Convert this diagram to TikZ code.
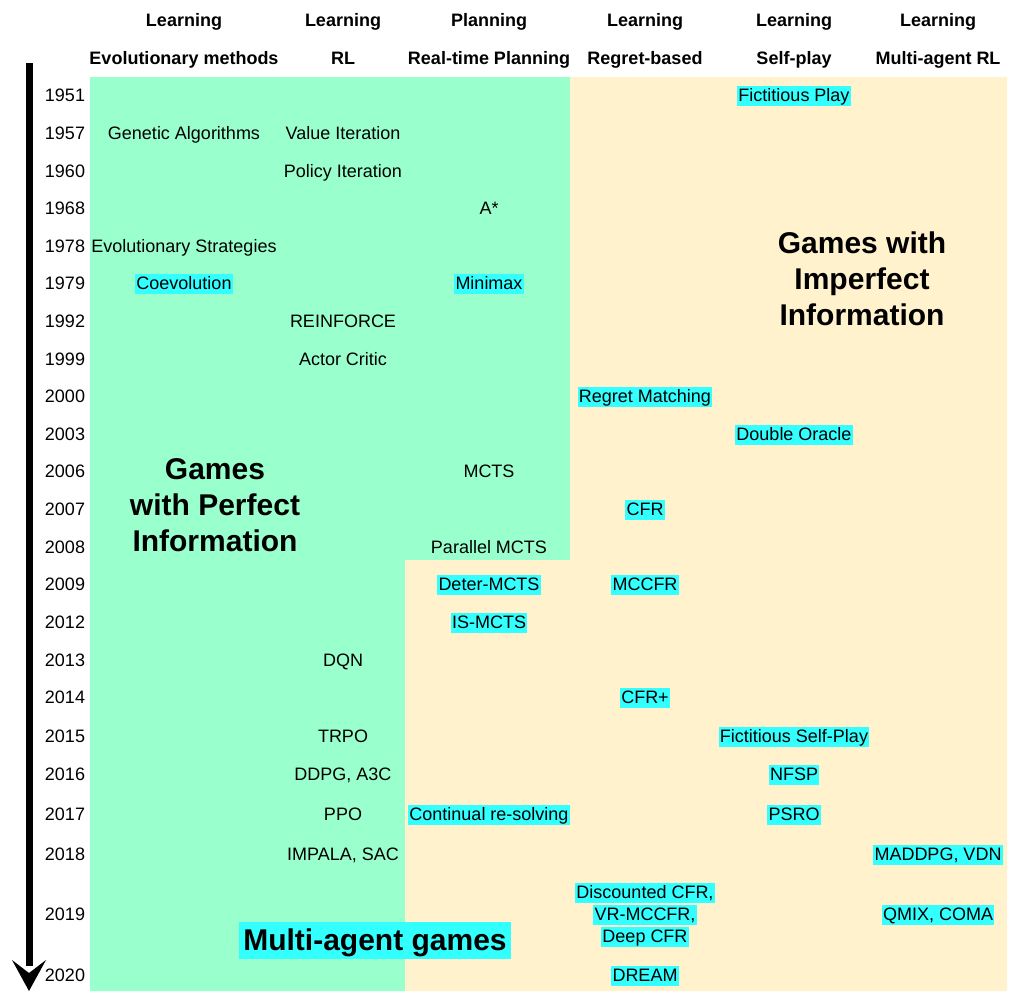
\documentclass[tikz,border=0pt]{standalone}
\usepackage{fontspec}
\setmainfont{Liberation Sans}
\definecolor{pgreen}{HTML}{99FFCC}
\definecolor{pyellow}{HTML}{FFF2CC}
\definecolor{pcyan}{HTML}{33FFFF}
\begin{document}
\begin{tikzpicture}[x=1pt,y=-1pt,
  txt/.style={font=\fontsize{18}{21}\selectfont, inner xsep=1.2pt, inner ysep=0.5pt, text height=15.5pt, text depth=4pt, anchor=center, yshift=-1pt},
  yr/.style={txt},
  item/.style={txt},
  hl/.style={txt, fill=pcyan},
  hdr/.style={txt, font=\fontsize{18}{21}\selectfont\bfseries},
  big/.style={font=\fontsize{30}{36}\selectfont\bfseries, align=center, inner sep=0pt},
  bighl/.style={font=\fontsize{30}{36}\selectfont\bfseries, fill=pcyan, inner xsep=4pt, inner ysep=2.5pt, text height=26pt, text depth=6.5pt, yshift=-1.5pt}
]
\useasboundingbox (0,0) rectangle (1009,991);
% background regions
\fill[pgreen] (90,77) -- (570,77) -- (570,560) -- (405,560) -- (405,991) -- (90,991) -- cycle;
\fill[pyellow] (570,77) -- (1007,77) -- (1007,991) -- (405,991) -- (405,560) -- (570,560) -- cycle;
% time arrow
\coordinate (atop) at (29,63);
\coordinate (abase) at (29,966);
\coordinate (atip) at (29,991);
\draw[line width=7pt] (atop) -- (abase);
\fill (12,960) -- (atip) -- (46,960) -- (29,973) -- cycle;
% headers
\node[hdr] (h1a) at (184,20) {Learning};
\node[hdr] (h1b) at (184,58) {Evolutionary methods};
\node[hdr] (h2a) at (343,20) {Learning};
\node[hdr] (h2b) at (343,58) {RL};
\node[hdr] (h3a) at (489,20) {Planning};
\node[hdr] (h3b) at (489,58) {Real-time Planning};
\node[hdr] (h4a) at (645,20) {Learning};
\node[hdr] (h4b) at (645,58) {Regret-based};
\node[hdr] (h5a) at (794,20) {Learning};
\node[hdr] (h5b) at (794,58) {Self-play};
\node[hdr] (h6a) at (938,20) {Learning};
\node[hdr] (h6b) at (938,58) {Multi-agent RL};
% years
\node[yr] (y1951) at (65,95) {1951};
\node[yr] (y1957) at (65,133) {1957};
\node[yr] (y1960) at (65,171) {1960};
\node[yr] (y1968) at (65,208) {1968};
\node[yr] (y1978) at (65,246) {1978};
\node[yr] (y1979) at (65,283) {1979};
\node[yr] (y1992) at (65,321) {1992};
\node[yr] (y1999) at (65,359) {1999};
\node[yr] (y2000) at (65,396) {2000};
\node[yr] (y2003) at (65,434) {2003};
\node[yr] (y2006) at (65,471) {2006};
\node[yr] (y2007) at (65,509) {2007};
\node[yr] (y2008) at (65,547) {2008};
\node[yr] (y2009) at (65,584) {2009};
\node[yr] (y2012) at (65,622) {2012};
\node[yr] (y2013) at (65,660) {2013};
\node[yr] (y2014) at (65,697) {2014};
\node[yr] (y2015) at (65,736) {2015};
\node[yr] (y2016) at (65,774) {2016};
\node[yr] (y2017) at (65,814) {2017};
\node[yr] (y2018) at (65,854) {2018};
\node[yr] (y2019) at (65,914) {2019};
\node[yr] (y2020) at (65,975) {2020};
% items
\node[hl] (fp) at (794,95) {Fictitious Play};
\node[item] (ga) at (184,133) {Genetic Algorithms};
\node[item] (vi) at (343,133) {Value Iteration};
\node[item] (pi) at (343,171) {Policy Iteration};
\node[item] (astar) at (489,208) {A*};
\node[item] (es) at (184,246) {Evolutionary Strategies};
\node[hl] (coev) at (184,283) {Coevolution};
\node[hl] (minimax) at (489,283) {Minimax};
\node[item] (reinforce) at (343,321) {REINFORCE};
\node[item] (ac) at (343,359) {Actor Critic};
\node[hl] (rm) at (645,396) {Regret Matching};
\node[hl] (do) at (794,434) {Double Oracle};
\node[item] (mcts) at (489,471) {MCTS};
\node[hl] (cfr) at (645,509) {CFR};
\node[item] (pmcts) at (489,547) {Parallel MCTS};
\node[hl] (dmcts) at (489,584) {Deter-MCTS};
\node[hl] (mccfr) at (645,584) {MCCFR};
\node[hl] (ismcts) at (489,622) {IS-MCTS};
\node[item] (dqn) at (343,660) {DQN};
\node[hl] (cfrp) at (645,697) {CFR+};
\node[item] (trpo) at (343,736) {TRPO};
\node[hl] (fsp) at (794,736) {Fictitious Self-Play};
\node[item] (ddpg) at (343,774) {DDPG, A3C};
\node[hl] (nfsp) at (794,774) {NFSP};
\node[item] (ppo) at (343,814) {PPO};
\node[hl] (crs) at (489,814) {Continual re-solving};
\node[hl] (psro) at (794,814) {PSRO};
\node[item] (impala) at (343,854) {IMPALA, SAC};
\node[hl] (maddpg) at (938,854) {MADDPG, VDN};
\node[hl] (dcfr) at (645,892) {Discounted CFR,};
\node[hl] (vrmccfr) at (645,914) {VR-MCCFR,};
\node[hl] (deepcfr) at (645,936) {Deep CFR};
\node[hl] (qmix) at (938,914) {QMIX, COMA};
\node[hl] (dream) at (645,975) {DREAM};
% big labels
\node[big] (perfect) at (215,505) {Games\\with Perfect\\Information};
\node[big] (imperfect) at (862,279) {Games with\\Imperfect\\Information};
\node[bighl] (multi) at (375,939) {Multi-agent games};
\end{tikzpicture}
\end{document}
